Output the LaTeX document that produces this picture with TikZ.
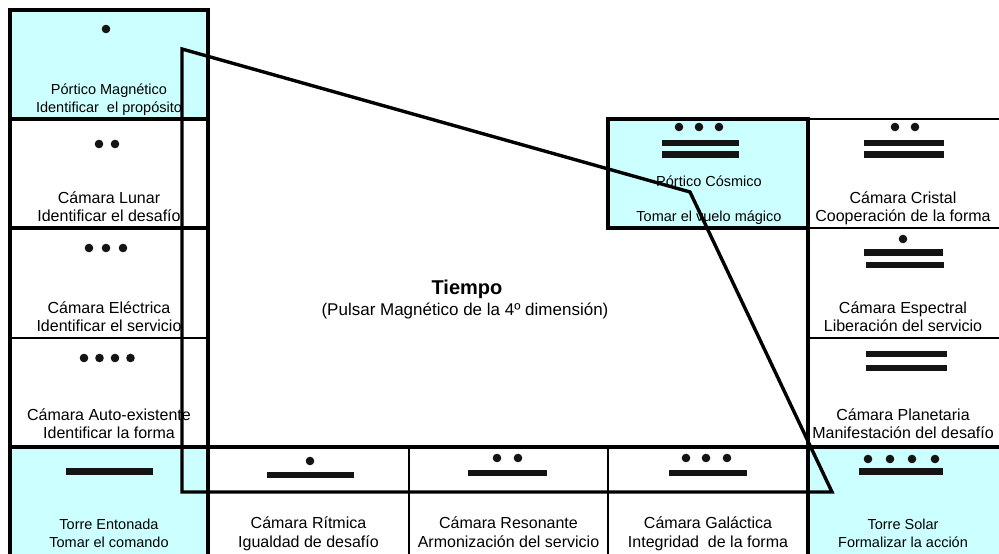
\documentclass[tikz,border=0pt]{standalone}
\usepackage{fontspec}
\setmainfont{Liberation Sans}
\definecolor{cyanbg}{HTML}{CCFFFF}
\newcommand\mdot[2]{\fill[black!92] (#1,#2) circle (4.3);}
\newcommand\mbar[4]{\fill[black!92] (#1,#2) rectangle (#3,#4);}
\begin{document}
\begin{tikzpicture}[x=1pt,y=-1pt,
  thinln/.style={line width=2pt, line cap=rect},
  midln/.style={line width=2.6pt, line cap=rect},
  thickln/.style={line width=3.6pt, line cap=rect},
  boxln/.style={line width=4pt},
  frameln/.style={line width=3.4pt, line join=miter},
  wtxt/.style={font=\fontsize{16}{18}\selectfont, anchor=base, inner sep=0pt},
  ctxt/.style={font=\fontsize{14.5}{18}\selectfont, anchor=base, inner sep=0pt},
]
\useasboundingbox (0,0) rectangle (999,554);

% cyan fills
\fill[cyanbg] (10,10) rectangle (208,119);
\fill[cyanbg] (10,447) rectangle (208,560);
\fill[cyanbg] (808,447) rectangle (1005,560);
\fill[cyanbg] (608,119) rectangle (808,228);

% grid lines
\draw[thickln] (10,10) -- (10,560);
\draw[thickln] (208,10) -- (208,560);
\draw[thickln] (10,10) -- (208,10);
\draw[thickln] (10,119) -- (208,119);
\draw[thickln] (10,228) -- (208,228);
\draw[thinln] (10,338) -- (208,338);
\draw[thickln] (10,447) -- (1005,447);
\draw[thinln] (409,447) -- (409,560);
\draw[thinln] (608,447) -- (608,560);
\draw[thickln] (808,119) -- (808,560);
\draw[midln] (808,119) -- (1005,119);
\draw[midln] (808,228) -- (1005,228);
\draw[thinln] (808,338) -- (1005,338);
\draw[boxln] (608,119) rectangle (808,228);

% numerals
\mdot{106}{29}
\mdot{99}{144}\mdot{115}{144}
\mdot{89}{248}\mdot{106}{248}\mdot{123}{248}
\mdot{84}{358}\mdot{99.5}{358}\mdot{115}{358}\mdot{130.5}{358}
\mbar{66}{468}{153}{474.5}
\mdot{310}{461}\mbar{267}{471.5}{354}{478}
\mdot{497}{458}\mdot{518}{458}\mbar{468}{469.5}{547}{476}
\mdot{686}{458}\mdot{706}{458}\mdot{727}{458}\mbar{669}{469.5}{747}{476}
\mdot{868}{459}\mdot{890}{459}\mdot{912}{459}\mdot{935}{459}\mbar{859}{468}{943}{474.5}
\mdot{679}{127}\mdot{699}{127}\mdot{719}{127}
\mbar{662}{139.5}{739}{146}\mbar{662}{151}{739}{157.5}
\mdot{895}{127}\mdot{915}{127}
\mbar{864}{139.5}{944}{146}\mbar{864}{151}{944}{157.5}
\mdot{903}{239}
\mbar{864}{249}{943}{255.5}\mbar{866}{261.5}{944}{268}
\mbar{866}{350.5}{947}{357}\mbar{866}{364.5}{947}{371}

% texts
\node[ctxt] (pmA) at (109,94) {Pórtico Magnético};
\node[ctxt] (pmB) at (109,112) {Identificar\ \ el propósito};
\node[wtxt] (luA) at (109,203) {Cámara Lunar};
\node[wtxt] (luB) at (109,221) {Identificar el desafío};
\node[wtxt] (elA) at (109,313) {Cámara Eléctrica};
\node[wtxt] (elB) at (109,331) {Identificar el servicio};
\node[wtxt] (auA) at (109,420) {Cámara Auto-existente};
\node[wtxt] (auB) at (109,438) {Identificar la forma};
\node[ctxt] (teA) at (109,529) {Torre Entonada};
\node[ctxt] (teB) at (109,547) {Tomar el comando};
\node[wtxt] (riA) at (308.5,528) {Cámara Rítmica};
\node[wtxt] (riB) at (308.5,547) {Igualdad de desafío};
\node[wtxt] (reA) at (508.5,528) {Cámara Resonante};
\node[wtxt] (reB) at (508.5,547) {Armonización del servicio};
\node[wtxt] (gaA) at (708,528) {Cámara Galáctica};
\node[wtxt] (gaB) at (708,547) {Integridad\ \ de la forma};
\node[ctxt] (tsA) at (903,529) {Torre Solar};
\node[ctxt] (tsB) at (903,547) {Formalizar la acción};
\node[ctxt] (pcA) at (709,186) {Pórtico Cósmico};
\node[ctxt] (pcB) at (709,221) {Tomar el vuelo mágico};
\node[wtxt] (crA) at (903,203) {Cámara Cristal};
\node[wtxt] (crB) at (903,221) {Cooperación de la forma};
\node[wtxt] (esA) at (903,313) {Cámara Espectral};
\node[wtxt] (esB) at (903,331) {Liberación del servicio};
\node[wtxt] (plA) at (903,420) {Cámara Planetaria};
\node[wtxt] (plB) at (903,438) {Manifestación del desafío};
\node[anchor=base, inner sep=0pt, font=\fontsize{20}{22}\selectfont\bfseries] (ti) at (467,294) {Tiempo};
\node[anchor=base, inner sep=0pt, font=\fontsize{17}{20}\selectfont] (tsub) at (465,315) {(Pulsar Magnético de la 4º dimensión)};

% frame polygon
\coordinate (fA) at (182,49);
\coordinate (fB) at (690,192);
\coordinate (fC) at (832,492);
\coordinate (fD) at (182,492);
\draw[frameln] (fA) -- (fB) -- (fC) -- (fD) -- cycle;
\end{tikzpicture}
\end{document}
